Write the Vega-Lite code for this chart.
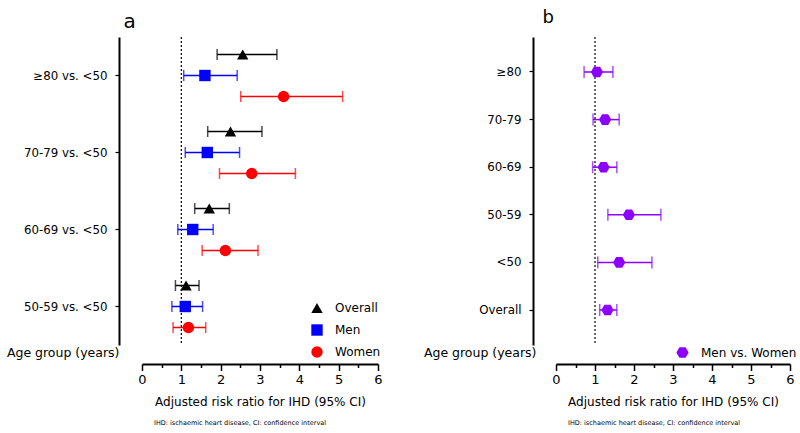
{
  "$schema": "https://vega.github.io/schema/vega-lite/v6.json",
  "autosize": {"type": "pad"},
  "padding": {"left": 6, "top": 8, "right": 2, "bottom": 2},
  "background": "white",
  "spacing": 178,
  "bounds": "flush",
  "resolve": {"scale": {"color": "independent", "shape": "independent"}, "legend": {"color": "independent", "shape": "independent"}},
  "config": {
    "view": {"stroke": null},
    "font": "DejaVu Sans",
    "axis": {"grid": false, "labelColor": "black", "titleColor": "black", "titleFontWeight": "normal", "domainColor": "black", "tickColor": "black", "labelOverlap": false},
    "title": {"fontWeight": "normal", "color": "black"}
  },
  "datasets": {
    "a": [
      {"group": "≥80 vs. <50", "series": "Overall", "rr": 2.56, "lo": 1.91, "hi": 3.43},
      {"group": "≥80 vs. <50", "series": "Men", "rr": 1.60, "lo": 1.06, "hi": 2.42},
      {"group": "≥80 vs. <50", "series": "Women", "rr": 3.60, "lo": 2.51, "hi": 5.10},
      {"group": "70-79 vs. <50", "series": "Overall", "rr": 2.25, "lo": 1.67, "hi": 3.05},
      {"group": "70-79 vs. <50", "series": "Men", "rr": 1.66, "lo": 1.10, "hi": 2.48},
      {"group": "70-79 vs. <50", "series": "Women", "rr": 2.79, "lo": 1.97, "hi": 3.90},
      {"group": "60-69 vs. <50", "series": "Overall", "rr": 1.71, "lo": 1.34, "hi": 2.22},
      {"group": "60-69 vs. <50", "series": "Men", "rr": 1.29, "lo": 0.91, "hi": 1.81},
      {"group": "60-69 vs. <50", "series": "Women", "rr": 2.12, "lo": 1.53, "hi": 2.95},
      {"group": "50-59 vs. <50", "series": "Overall", "rr": 1.12, "lo": 0.85, "hi": 1.45},
      {"group": "50-59 vs. <50", "series": "Men", "rr": 1.10, "lo": 0.76, "hi": 1.54},
      {"group": "50-59 vs. <50", "series": "Women", "rr": 1.18, "lo": 0.79, "hi": 1.62}
    ],
    "b": [
      {"group": "≥80", "series": "Men vs. Women", "rr": 1.05, "lo": 0.72, "hi": 1.46},
      {"group": "70-79", "series": "Men vs. Women", "rr": 1.26, "lo": 0.95, "hi": 1.62},
      {"group": "60-69", "series": "Men vs. Women", "rr": 1.22, "lo": 0.94, "hi": 1.56},
      {"group": "50-59", "series": "Men vs. Women", "rr": 1.87, "lo": 1.33, "hi": 2.69},
      {"group": "<50", "series": "Men vs. Women", "rr": 1.62, "lo": 1.07, "hi": 2.46},
      {"group": "Overall", "series": "Men vs. Women", "rr": 1.32, "lo": 1.12, "hi": 1.56}
    ]
  },
  "hconcat": [
    {
      "width": 236,
      "height": 308,
      "title": {"text": "IHD: ischaemic heart disease, CI: confidence interval", "orient": "bottom", "anchor": "start", "frame": "group", "dx": 12, "fontSize": 6.5, "offset": 12},
      "resolve": {"axis": {"x": "independent"}},
      "layer": [
        {
          "data": {"values": [{"ref": 1}]},
          "mark": {"type": "rule", "strokeDash": [2, 2], "strokeWidth": 1.2, "color": "black"},
          "encoding": {
            "x": {"field": "ref", "type": "quantitative", "scale": {"domain": [0, 6], "nice": false, "zero": false},
              "axis": {"orient": "bottom", "offset": 19, "values": [1, 3, 5], "format": "d", "domain": false,
                "tickSize": 6.5, "tickWidth": 1.5, "labelFontSize": 13, "labelPadding": 3, "labelFlush": false, "title": null}}
          }
        },
        {
          "data": {"name": "a"},
          "resolve": {"axis": {"x": "independent"}},
          "encoding": {
            "y": {"field": "group", "type": "nominal",
              "scale": {"domain": ["≥80 vs. <50", "70-79 vs. <50", "60-69 vs. <50", "50-59 vs. <50"], "paddingInner": 0, "paddingOuter": 0},
              "axis": {"title": "Age group (years)", "titleAngle": 0, "titleAlign": "right", "titleBaseline": "middle", "titleX": 0, "titleY": 315, "titleFontSize": 12.5,
                "offset": 23, "domainWidth": 2, "tickSize": 4, "tickWidth": 1.2, "labelFontSize": 11.8, "labelPadding": 8}},
            "yOffset": {"field": "series", "type": "nominal", "scale": {"domain": ["Overall", "Men", "Women"], "paddingInner": 0, "paddingOuter": 0.333}}
          },
          "layer": [
            {
              "mark": {"type": "point", "filled": true, "opacity": 1, "size": 130},
              "encoding": {
                "x": {"field": "rr", "type": "quantitative",
                  "axis": {"orient": "bottom", "offset": 19, "values": [0, 2, 4, 6], "format": "d",
                    "tickSize": 6.5, "tickWidth": 1.5, "domainWidth": 2, "labelFontSize": 13, "labelPadding": 3, "labelFlush": false,
                    "title": "Adjusted risk ratio for IHD (95% CI)", "titleFontSize": 12, "titlePadding": 10}},
                "color": {"field": "series", "type": "nominal",
                  "scale": {"domain": ["Overall", "Men", "Women"], "range": ["#000000", "#0000ff", "#ff0000"]},
                  "legend": {"title": null, "orient": "none", "legendX": 169, "legendY": 265, "symbolSize": 130, "labelFontSize": 12, "labelOffset": 12, "rowPadding": 10, "symbolStrokeWidth": 0}},
                "shape": {"field": "series", "type": "nominal",
                  "scale": {"domain": ["Overall", "Men", "Women"], "range": ["triangle-up", "square", "circle"]},
                  "legend": {"title": null, "orient": "none", "legendX": 169, "legendY": 265, "symbolSize": 130, "labelFontSize": 12, "labelOffset": 12, "rowPadding": 10, "symbolStrokeWidth": 0}}
              }
            },
            {
              "mark": {"type": "rule", "strokeWidth": 1.5},
              "encoding": {
                "x": {"field": "lo", "type": "quantitative",
                  "axis": {"orient": "bottom", "offset": 19, "values": [0.5, 1.5, 2.5, 3.5, 4.5, 5.5], "domain": false, "labels": false,
                    "tickSize": 3.5, "tickWidth": 1.5, "title": null}},
                "x2": {"field": "hi"},
                "color": {"field": "series", "type": "nominal", "legend": null}
              }
            },
            {
              "mark": {"type": "tick", "orient": "vertical", "thickness": 1.5, "size": 11},
              "encoding": {
                "x": {"field": "lo", "type": "quantitative",
                  "axis": {"orient": "top", "domain": false, "ticks": false, "labels": false,
                    "title": "a", "titleFontSize": 20, "titleX": -19, "titleY": -10, "titleAlign": "left", "titleBaseline": "alphabetic"}},
                "color": {"field": "series", "type": "nominal", "legend": null}
              }
            },
            {
              "mark": {"type": "tick", "orient": "vertical", "thickness": 1.5, "size": 11},
              "encoding": {
                "x": {"field": "hi", "type": "quantitative", "axis": null},
                "color": {"field": "series", "type": "nominal", "legend": null}
              }
            }
          ]
        }
      ]
    },
    {
      "width": 234,
      "height": 308,
      "title": {"text": "IHD: ischaemic heart disease, CI: confidence interval", "orient": "bottom", "anchor": "start", "frame": "group", "dx": 12, "fontSize": 6.5, "offset": 12},
      "resolve": {"axis": {"x": "independent"}},
      "layer": [
        {
          "data": {"values": [{"ref": 1}]},
          "mark": {"type": "rule", "strokeDash": [2, 2], "strokeWidth": 1.2, "color": "black"},
          "encoding": {
            "x": {"field": "ref", "type": "quantitative", "scale": {"domain": [0, 6], "nice": false, "zero": false},
              "axis": {"orient": "bottom", "offset": 19, "values": [1, 3, 5], "format": "d", "domain": false,
                "tickSize": 6.5, "tickWidth": 1.5, "labelFontSize": 13, "labelPadding": 3, "labelFlush": false, "title": null}}
          }
        },
        {
          "data": {"name": "b"},
          "resolve": {"axis": {"x": "independent"}},
          "encoding": {
            "y": {"field": "group", "type": "nominal",
              "scale": {"domain": ["≥80", "70-79", "60-69", "50-59", "<50", "Overall"], "paddingInner": 0, "paddingOuter": 0.235},
              "axis": {"title": "Age group (years)", "titleAngle": 0, "titleAlign": "right", "titleBaseline": "middle", "titleX": 3, "titleY": 315, "titleFontSize": 12.5,
                "offset": 23, "domainWidth": 2, "tickSize": 4, "tickWidth": 1.2, "labelFontSize": 11.8, "labelPadding": 8}}
          },
          "layer": [
            {
              "mark": {"type": "rule", "strokeWidth": 1.5, "color": "#8b00ff"},
              "encoding": {
                "x": {"field": "lo", "type": "quantitative",
                  "axis": {"orient": "bottom", "offset": 19, "values": [0.5, 1.5, 2.5, 3.5, 4.5, 5.5], "domain": false, "labels": false,
                    "tickSize": 3.5, "tickWidth": 1.5, "title": null}},
                "x2": {"field": "hi"}
              }
            },
            {
              "mark": {"type": "tick", "orient": "vertical", "thickness": 1.5, "size": 12, "color": "#8b00ff"},
              "encoding": {"x": {"field": "lo", "type": "quantitative",
                "axis": {"orient": "top", "domain": false, "ticks": false, "labels": false,
                  "title": "b", "titleFontSize": 18, "titleX": -14, "titleY": -15, "titleAlign": "left", "titleBaseline": "alphabetic"}}}
            },
            {
              "mark": {"type": "tick", "orient": "vertical", "thickness": 1.5, "size": 12, "color": "#8b00ff"},
              "encoding": {"x": {"field": "hi", "type": "quantitative", "axis": null}}
            },
            {
              "mark": {"type": "point", "filled": true, "opacity": 1, "size": 150},
              "encoding": {
                "x": {"field": "rr", "type": "quantitative",
                  "axis": {"orient": "bottom", "offset": 19, "values": [0, 2, 4, 6], "format": "d",
                    "tickSize": 6.5, "tickWidth": 1.5, "domainWidth": 2, "labelFontSize": 13, "labelPadding": 3, "labelFlush": false,
                    "title": "Adjusted risk ratio for IHD (95% CI)", "titleFontSize": 12, "titlePadding": 10}},
                "color": {"field": "series", "type": "nominal", "scale": {"domain": ["Men vs. Women"], "range": ["#8b00ff"]},
                  "legend": {"title": null, "orient": "none", "legendX": 120, "legendY": 309, "symbolSize": 150, "labelFontSize": 12, "labelOffset": 12, "symbolStrokeWidth": 0}},
                "shape": {"field": "series", "type": "nominal", "scale": {"domain": ["Men vs. Women"], "range": ["M-1,0L-0.5,-0.866L0.5,-0.866L1,0L0.5,0.866L-0.5,0.866Z"]},
                  "legend": {"title": null, "orient": "none", "legendX": 120, "legendY": 309, "symbolSize": 150, "labelFontSize": 12, "labelOffset": 12, "symbolStrokeWidth": 0}}
              }
            }
          ]
        }
      ]
    }
  ]
}
